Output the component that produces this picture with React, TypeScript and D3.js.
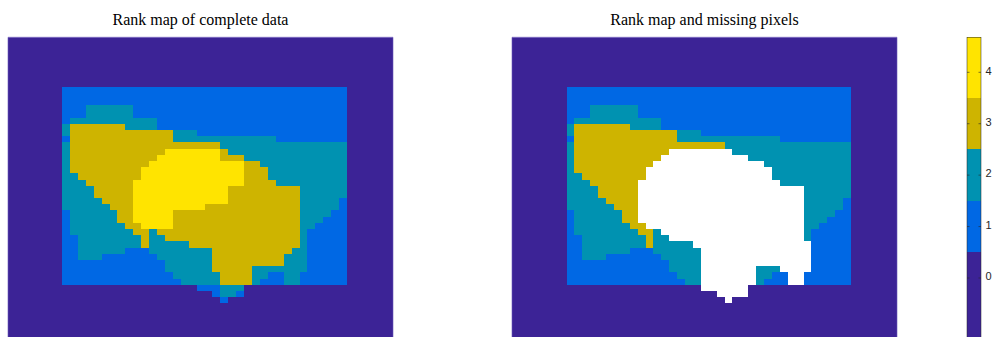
import React from 'react';
import * as d3 from 'd3';

// rank levels and their colours (parula-like, 5 levels)
const rankLevels = [0, 1, 2, 3, 4];
const levelColors = ['#3c2396', '#0068e4', '#0092b1', '#ceb400', '#ffe400'];
const missingColor = '#ffffff';
const titles = ['Rank map of complete data', 'Rank map and missing pixels'];
const colorbarTicks = [0, 1, 2, 3, 4];

// rank map, one row per image row, run-length encoded as [rank, count] (36 columns)
const rankRuns: [number, number][][] = [
  [[1, 36]],
  [[1, 36]],
  [[1, 36]],
  [[1, 3], [2, 6], [1, 27]],
  [[1, 3], [2, 6], [1, 27]],
  [[1, 1], [2, 11], [1, 24]],
  [[2, 1], [3, 7], [2, 4], [1, 24]],
  [[2, 1], [3, 13], [2, 3], [1, 19]],
  [[1, 1], [3, 13], [2, 13], [1, 9]],
  [[2, 1], [3, 19], [2, 16]],
  [[2, 1], [3, 12], [4, 7], [3, 1], [2, 15]],
  [[2, 1], [3, 11], [4, 8], [3, 3], [2, 13]],
  [[2, 1], [3, 10], [4, 12], [3, 2], [2, 11]],
  [[2, 1], [3, 9], [4, 13], [3, 3], [2, 10]],
  [[2, 2], [3, 8], [4, 13], [3, 3], [2, 10]],
  [[2, 3], [3, 6], [4, 14], [3, 4], [2, 9]],
  [[2, 4], [3, 5], [4, 12], [3, 9], [2, 6]],
  [[2, 4], [3, 5], [4, 12], [3, 9], [2, 6]],
  [[2, 5], [3, 4], [4, 12], [3, 9], [2, 5], [1, 1]],
  [[2, 6], [3, 3], [4, 9], [3, 12], [2, 5], [1, 1]],
  [[1, 1], [2, 6], [3, 2], [4, 5], [3, 16], [2, 4], [1, 2]],
  [[1, 1], [2, 6], [3, 2], [4, 5], [3, 16], [2, 3], [1, 3]],
  [[1, 1], [2, 7], [3, 2], [4, 4], [3, 16], [2, 2], [1, 4]],
  [[1, 1], [2, 8], [3, 2], [2, 1], [3, 18], [2, 1], [1, 5]],
  [[1, 2], [2, 8], [3, 1], [2, 2], [3, 17], [2, 1], [1, 5]],
  [[1, 2], [2, 8], [3, 1], [2, 5], [3, 14], [2, 1], [1, 5]],
  [[1, 2], [2, 6], [1, 3], [2, 8], [3, 10], [2, 2], [1, 5]],
  [[1, 2], [2, 3], [1, 7], [2, 7], [3, 9], [2, 3], [1, 5]],
  [[1, 13], [2, 6], [3, 9], [2, 3], [1, 5]],
  [[1, 13], [2, 6], [3, 5], [2, 7], [1, 5]],
  [[1, 14], [2, 6], [3, 4], [2, 2], [1, 2], [2, 2], [1, 6]],
  [[1, 15], [2, 5], [3, 4], [2, 1], [1, 3], [2, 2], [1, 6]],
  [[0, 17], [1, 3], [2, 3], [0, 13]],
  [[0, 19], [1, 1], [2, 2], [1, 1], [0, 13]],
  [[0, 20], [1, 1], [0, 15]],
];

// missing pixels: [row, firstCol, lastCol]
const missingSpans: [number, number, number][] = [
  [10, 13, 20],
  [11, 12, 22],
  [12, 11, 24],
  [13, 10, 25],
  [14, 10, 25],
  [15, 9, 26],
  [16, 9, 29],
  [17, 9, 29],
  [18, 9, 29],
  [19, 9, 29],
  [20, 9, 29],
  [21, 9, 29],
  [22, 10, 29],
  [23, 12, 29],
  [24, 13, 29],
  [25, 16, 30],
  [26, 17, 30],
  [27, 17, 30],
  [28, 17, 30],
  [29, 17, 23],
  [29, 27, 30],
  [30, 17, 23],
  [30, 28, 29],
  [31, 17, 23],
  [31, 28, 29],
  [32, 17, 22],
  [33, 19, 22],
  [34, 20, 20],
];

const NCOLS = 36;
const BLOCK_ROWS = 32;

function expand(): number[][] {
  return rankRuns.map((runs) => {
    const row: number[] = [];
    runs.forEach(([v, n]) => {
      for (let i = 0; i < n; i++) row.push(v);
    });
    return row;
  });
}

function toRuns(row: number[]) {
  const out: { v: number; start: number; end: number }[] = [];
  let s = 0;
  for (let c = 1; c <= row.length; c++) {
    if (c === row.length || row[c] !== row[s]) {
      out.push({ v: row[s], start: s, end: c });
      s = c;
    }
  }
  return out;
}

export default function App() {
  const W = 992;
  const H = 337;
  const top = 37.3;
  const bottom = 345;
  const font = 'Liberation Serif, "Times New Roman", serif';

  const base = expand();
  const masked = base.map((r) => r.slice());
  missingSpans.forEach(([r, a, b]) => {
    for (let c = a; c <= b; c++) masked[r][c] = -1;
  });

  const y = d3.scaleLinear().domain([0, BLOCK_ROWS]).range([86.7, 284.7]);

  const panels = [
    { x0: 8, x1: 393, bx0: 62, bx1: 347, title: titles[0], grid: base },
    { x0: 512, x1: 897, bx0: 566.5, bx1: 851, title: titles[1], grid: masked },
  ];

  const color = (v: number) => (v < 0 ? missingColor : levelColors[rankLevels.indexOf(v)]);

  // colorbar
  const cbX0 = 967;
  const cbX1 = 981;
  const cbY = d3.scaleLinear().domain([0, 4]).range([277.97, 72.3]);
  const cbTopV = cbY.invert(top);
  const cbBotV = cbY.invert(bottom);

  return (
    <svg
      width={W}
      height={H}
      viewBox={`0 0 ${W} ${H}`}
      style={{ position: 'absolute', left: 0, top: 0, background: '#fff' }}
    >
      <rect x={0} y={0} width={W} height={H} fill="#fff" />
      {panels.map((p, pi) => {
        const x = d3.scaleLinear().domain([0, NCOLS]).range([p.bx0, p.bx1]);
        return (
          <g key={pi}>
            <text
              x={(p.x0 + p.x1) / 2}
              y={24.5}
              textAnchor="middle"
              fontFamily={font}
              fontSize={16}
              fill="#000"
            >
              {p.title}
            </text>
            <rect x={p.x0} y={top} width={p.x1 - p.x0} height={bottom - top} fill={levelColors[0]} />
            <g shapeRendering="crispEdges">
              {p.grid.map((row, r) =>
                toRuns(row)
                  .filter((run) => run.v !== 0)
                  .map((run, k) => (
                    <rect
                      key={`${r}-${k}`}
                      x={x(run.start)}
                      y={y(r)}
                      width={x(run.end) - x(run.start)}
                      height={y(r + 1) - y(r)}
                      fill={color(run.v)}
                    />
                  ))
              )}
            </g>
            <line x1={p.x0} x2={p.x1} y1={top} y2={top} stroke="#7a68c0" strokeWidth={0.8} />
            <line x1={p.x0} x2={p.x0} y1={top} y2={bottom} stroke="#6a58b8" strokeWidth={0.6} />
            <line x1={p.x1} x2={p.x1} y1={top} y2={bottom} stroke="#6a58b8" strokeWidth={0.6} />
          </g>
        );
      })}
      <g>
        {rankLevels.map((v, i) => {
          const vTop = Math.min(v + 0.5, cbTopV);
          const vBot = Math.max(v - 0.5, cbBotV);
          const yTop = v === rankLevels[rankLevels.length - 1] ? cbY(cbTopV) : cbY(vTop);
          const yBot = v === rankLevels[0] ? cbY(cbBotV) : cbY(vBot);
          return (
            <rect
              key={i}
              x={cbX0}
              y={yTop}
              width={cbX1 - cbX0}
              height={yBot - yTop}
              fill={levelColors[i]}
              shapeRendering="crispEdges"
            />
          );
        })}
        <rect
          x={cbX0}
          y={top}
          width={cbX1 - cbX0}
          height={bottom - top}
          fill="none"
          stroke="#262626"
          strokeWidth={0.5}
        />
        {colorbarTicks.map((t) => (
          <g key={t}>
            <line x1={cbX1} x2={cbX1 - 2.5} y1={cbY(t)} y2={cbY(t)} stroke="#262626" strokeWidth={0.6} />
            <line x1={cbX0} x2={cbX0 + 2.5} y1={cbY(t)} y2={cbY(t)} stroke="#262626" strokeWidth={0.6} />
            <text
              x={985.5}
              y={cbY(t) - 1.5}
              dy="0.35em"
              fontFamily="Liberation Sans, Arial, Helvetica, sans-serif"
              fontSize={11}
              fill="#262626"
            >
              {t}
            </text>
          </g>
        ))}
      </g>
    </svg>
  );
}
